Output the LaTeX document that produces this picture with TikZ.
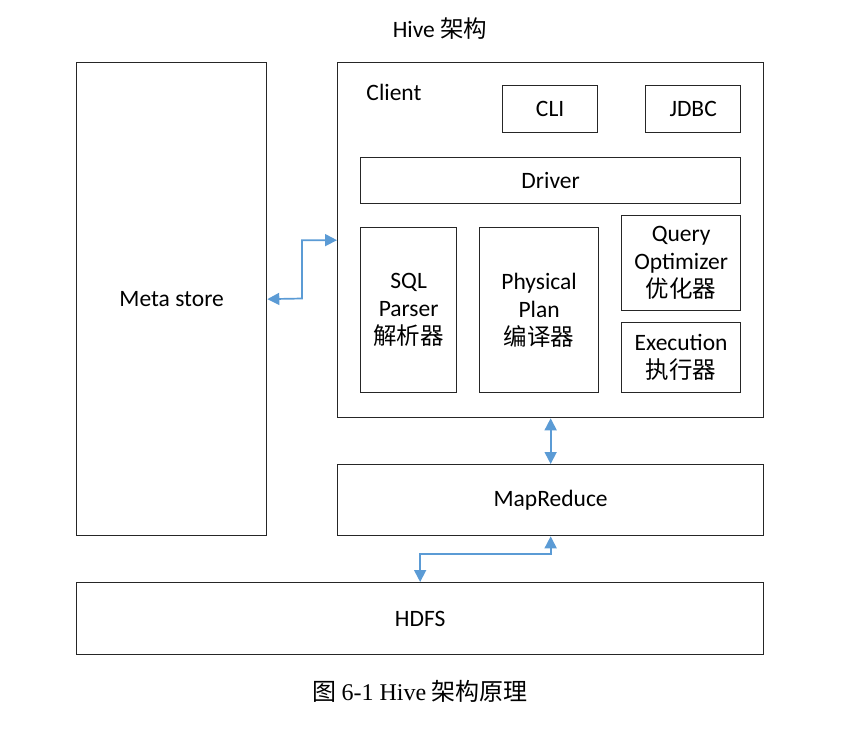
\documentclass[tikz,border=0pt]{standalone}
\usepackage{fontspec}
\setmainfont{Carlito}
\newfontfamily\cjk{Noto Sans CJK SC}
\newfontfamily\capfont{Liberation Serif}
\usetikzlibrary{arrows.meta}
\definecolor{conn}{HTML}{5B9BD5}
\begin{document}
\begin{tikzpicture}[x=1pt,y=-1pt,
  box/.style={draw=black!85,line width=1.3pt,fill=white,anchor=north west,inner sep=0pt,
    align=center,font=\fontsize{23.5}{28}\selectfont},
  link/.style={draw=conn,line width=1.7pt,{Triangle[length=12pt,width=12pt]}-{Triangle[length=12pt,width=12pt]}},
  lbl/.style={inner sep=0pt,font=\fontsize{23.5}{28}\selectfont}]
\useasboundingbox (0,0) rectangle (855,729);
\node[lbl] (title) at (440,29) {Hive {\cjk 架构}};
\node[box,minimum width=190pt,minimum height=473pt] (meta) at (76,62) {Meta store};
\node[box,minimum width=426pt,minimum height=355pt] (client) at (337,62) {};
\node[lbl] (clientlbl) at (394,92) {Client};
\node[box,minimum width=95pt,minimum height=47pt] (cli) at (502,85) {CLI};
\node[box,minimum width=95pt,minimum height=47pt] (jdbc) at (645,85) {JDBC};
\node[box,minimum width=380pt,minimum height=46pt] (driver) at (360,157) {Driver};
\node[box,minimum width=96pt,minimum height=165pt] (sql) at (360,227) {SQL\\Parser\\{\cjk 解析器}};
\node[box,minimum width=119pt,minimum height=165pt] (plan) at (479,227) {Physical\\Plan\\{\cjk 编译器}};
\node[box,minimum width=119pt,minimum height=95pt] (opt) at (621,215) {Query\\Optimizer\\{\cjk 优化器}};
\node[box,minimum width=119pt,minimum height=70pt] (exec) at (621,322) {Execution\\{\cjk 执行器}};
\node[box,minimum width=426pt,minimum height=71pt] (mr) at (337,464) {MapReduce};
\node[box,minimum width=687pt,minimum height=72pt] (hdfs) at (76,582) {HDFS};
\node[inner sep=0pt,font=\fontsize{24}{28}\selectfont] (cap) at (420,691) {{\cjk 图} {\capfont 6-1 Hive} {\cjk 架构原理}};
\draw[link] (meta.east) -- (302,298.5) |- (client.west);
\draw[link] (client.south) -- (mr.north);
\draw[link] (mr.south) -- ++(0,18) -| (hdfs.north);
\end{tikzpicture}
\end{document}
